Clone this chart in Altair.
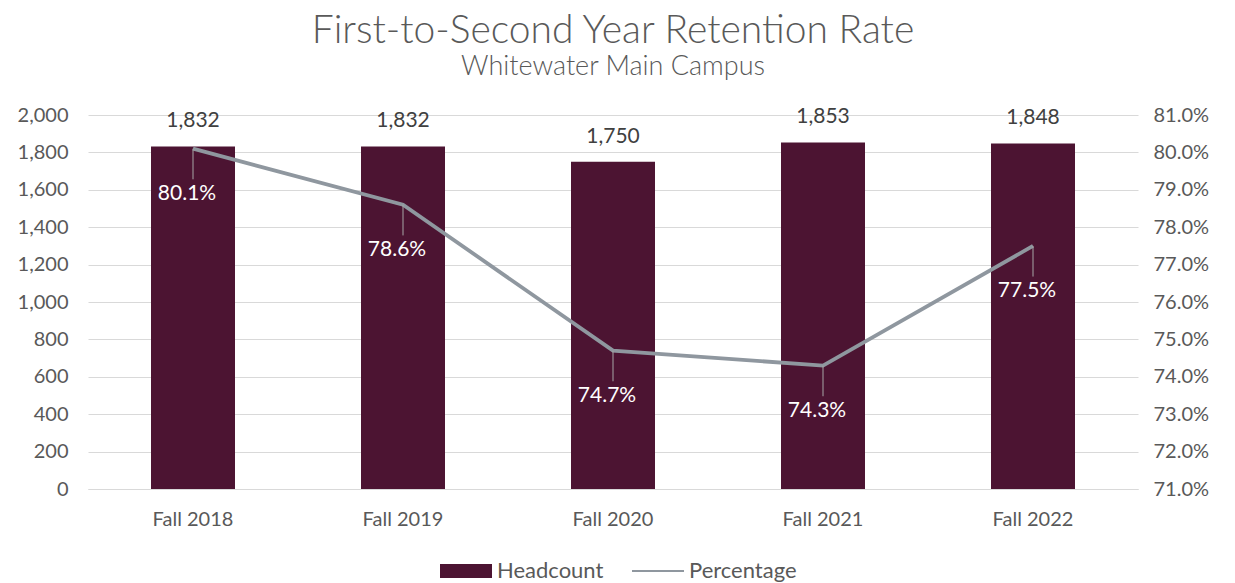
import altair as alt
import pandas as pd

years = ["Fall 2018", "Fall 2019", "Fall 2020", "Fall 2021", "Fall 2022"]
headcount = [1832, 1832, 1750, 1853, 1848]
retention = [0.801, 0.786, 0.747, 0.743, 0.775]
legend_items = ["Headcount", "Percentage"]
left_ticks = list(range(0, 2001, 200))
right_ticks = [0.71, 0.72, 0.73, 0.74, 0.75, 0.76, 0.77, 0.78, 0.79, 0.80, 0.81]

FONT = "Lato"
TEXT = "#595959"
BAR = "#4C1432"
LINE = "#8F979F"
GRID = "#D9D9D9"

df = pd.DataFrame({"year": years, "headcount": headcount, "retention": retention})
leg_df = pd.DataFrame({"series": legend_items, "year": years[:2], "headcount": headcount[:2]})

x_enc = alt.X(
    "year:N",
    sort=years,
    scale=alt.Scale(paddingInner=0.6, paddingOuter=0.3),
    axis=alt.Axis(
        title=None, labelAngle=0, ticks=False, domainColor=GRID, domainWidth=1,
        labelFont=FONT, labelFontSize=20, labelColor=TEXT, labelPadding=20,
    ),
)

y_left = alt.Y(
    "headcount:Q",
    scale=alt.Scale(domain=[0, 2000], nice=False),
    axis=alt.Axis(
        title=None, values=left_ticks, format=",.0f", grid=True, gridColor=GRID,
        domain=False, ticks=False, labelFont=FONT, labelFontSize=20,
        labelColor=TEXT, labelPadding=20, minExtent=80, labelOverlap=False,
    ),
)

y_right = alt.Y(
    "retention:Q",
    scale=alt.Scale(domain=[0.71, 0.81], nice=False),
    axis=alt.Axis(
        title=None, orient="right", values=right_ticks, format=".1%", grid=False,
        domain=False, ticks=False, labelFont=FONT, labelFontSize=20,
        labelColor=TEXT, labelPadding=15, labelOverlap=False,
    ),
)

base = alt.Chart(df)

bars = base.mark_bar(color=BAR).encode(x=x_enc, y=y_left)
bar_text = base.mark_text(
    font=FONT, fontSize=21, color="#404040", dy=-25, baseline="middle"
).encode(
    x=x_enc,
    y=y_left,
    text=alt.Text("headcount:Q", format=","),
)
legend_pts = alt.Chart(leg_df).mark_point(size=0, filled=True, opacity=1).encode(
    x=x_enc,
    y=y_left,
    color=alt.Color(
        "series:N",
        scale=alt.Scale(domain=legend_items, range=[BAR, LINE]),
        legend=alt.Legend(
            title=None, orient="none", legendX=352, legendY=430,
            direction="horizontal",
            symbolSize=2704, symbolStrokeWidth=0, symbolOpacity=1,
            labelFont=FONT, labelFontSize=22, labelColor=TEXT,
            columnPadding=28, labelOffset=5,
        ),
    ),
    shape=alt.Shape(
        "series:N",
        scale=alt.Scale(
            domain=legend_items,
            range=["M-1,-0.27H1V0.27H-1Z", "M-1,-0.04H1V0.04H-1Z"],
        ),
    ),
)
left_group = alt.layer(bars, bar_text, legend_pts)

line = base.mark_line(color=LINE, strokeWidth=3.8).encode(x=x_enc, y=y_right)
leaders = base.transform_calculate(
    lead_end="datum.retention - 0.0082"
).mark_rule(color="#A6A6A6", strokeWidth=1).encode(
    x=x_enc,
    y=y_right,
    y2="lead_end:Q",
)
pct_text = base.mark_text(
    font=FONT, fontSize=21, color="white", dy=45, dx=-6, baseline="middle"
).encode(
    x=x_enc,
    y=y_right,
    text=alt.Text("retention:Q", format=".1%"),
)
right_group = alt.layer(line, leaders, pct_text)

chart = (
    alt.layer(left_group, right_group)
    .resolve_scale(y="independent")
    .properties(
        width=1050,
        height=374,
        padding={"left": 0, "top": 4, "right": 5, "bottom": 5},
        title=alt.TitleParams(
            "First-to-Second Year Retention Rate",
            subtitle="Whitewater Main Campus",
            font=FONT, fontSize=39, fontWeight=300, color=TEXT,
            subtitleFont=FONT, subtitleFontSize=27, subtitleColor=TEXT,
            subtitleFontWeight=300,
            subtitlePadding=3, anchor="middle", offset=25,
        ),
    )
    .configure_view(stroke=None)
)

chart.save("out.html", embed_options={"renderer": "svg", "actions": False})
